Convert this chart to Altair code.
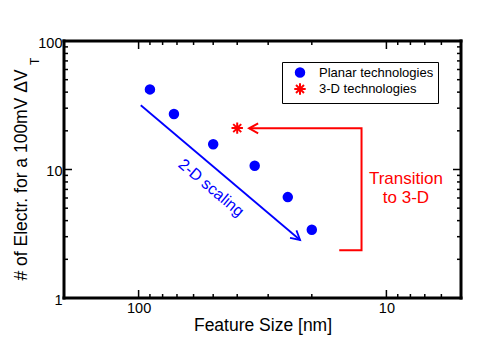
import altair as alt
import pandas as pd

# ---- data ----
planar_size = [90, 72, 50, 34, 25, 20]
planar_electrons = [42, 27, 15.7, 10.7, 6.1, 3.4]
three_d_size = [40]
three_d_electrons = [21]

tech_labels = ["Planar technologies", "3-D technologies"]

# annotation geometry (data coordinates)
scaling_arrow_x = [98, 22.3]
scaling_arrow_y = [31.6, 2.83]
transition_path_x = [15.5, 12.6, 12.6, 35.8]
transition_path_y = [2.35, 2.35, 20.9, 20.9]

x_domain = [5, 200]
y_domain = [1, 100]
x_major = [100, 10]
x_minor = [90, 80, 70, 60, 50, 40, 30, 20, 9, 8, 7, 6]
y_major = [10]
y_minor = [2, 3, 4, 5, 6, 7, 8, 9, 20, 30, 40, 50, 60, 70, 80, 90]

W, H = 397, 257
FONT = "Liberation Sans"

xscale = alt.Scale(type="log", domain=x_domain, reverse=True)
yscale = alt.Scale(type="log", domain=y_domain)

XTITLE = "Feature Size [nm]"
YTITLE = "# of Electr. for a 100mV \u0394V"

xaxis = alt.Axis(values=x_major, grid=False, ticks=False, tickSize=0, domain=False,
                 labelFontSize=14.5, labelPadding=3, labelColor="black", labelFont=FONT,
                 titleFontSize=17.5, titleFontWeight="normal", titleFont=FONT,
                 titleColor="black", titlePadding=2, labelFlush=False)
yaxis = alt.Axis(values=[1, 10, 100], grid=False, ticks=False, tickSize=0, domain=False,
                 labelFontSize=14.5, labelPadding=2, labelColor="black", labelFont=FONT,
                 labelOffset=2,
                 titleFontSize=17.5, titleFontWeight="normal", titleFont=FONT,
                 titleColor="black", titleAngle=270, titleAlign="left",
                 titleBaseline="alphabetic", titleX=-38, titleY=239)


def X(field="x"):
    return alt.X(f"{field}:Q", scale=xscale, axis=xaxis, title=XTITLE)


def Y(field="y"):
    return alt.Y(f"{field}:Q", scale=yscale, axis=yaxis, title=YTITLE)


pts = pd.DataFrame({
    "x": planar_size + three_d_size,
    "y": planar_electrons + three_d_electrons,
    "tech": [tech_labels[0]] * len(planar_size) + [tech_labels[1]] * len(three_d_size),
})

STAR = "M-1,0L1,0M0,-1L0,1M-0.7,-0.7L0.7,0.7M-0.7,0.7L0.7,-0.7"
CHEVRON = "M-1,-0.55L0,0L-1,0.55"

leg = alt.Legend(
    title=None, orient="none", legendX=218, legendY=21,
    labelFontSize=13, labelFont=FONT, labelColor="black",
    padding=4, symbolOffset=7, labelOffset=12, rowPadding=-2,
    strokeColor="black", symbolStrokeWidth=2,
)

points = alt.Chart(pts).mark_point(filled=True, strokeWidth=2, opacity=1).encode(
    x=X(), y=Y(),
    fill=alt.Fill("tech:N", scale=alt.Scale(domain=tech_labels, range=["#0000ff", "#ff0000"]), legend=leg),
    stroke=alt.Stroke("tech:N", scale=alt.Scale(domain=tech_labels, range=["#0000ff", "#ff0000"]), legend=leg),
    shape=alt.Shape("tech:N", scale=alt.Scale(domain=tech_labels, range=["circle", STAR]), legend=leg),
    size=alt.Size("tech:N", scale=alt.Scale(domain=tech_labels, range=[72, 130]), legend=leg),
)

# blue 2-D scaling arrow
arrow_df = pd.DataFrame({"x": [scaling_arrow_x[0]], "x2": [scaling_arrow_x[1]],
                         "y": [scaling_arrow_y[0]], "y2": [scaling_arrow_y[1]]})
blue_line = alt.Chart(arrow_df).mark_rule(color="#0000ff", strokeWidth=1.8).encode(
    x=X(), x2="x2:Q", y=Y(), y2="y2:Q")
blue_head = alt.Chart(pd.DataFrame({"x": [scaling_arrow_x[1]], "y": [scaling_arrow_y[1]]})).mark_point(
    shape=CHEVRON, size=324, angle=40.3, filled=False, color="#0000ff", strokeWidth=1.8, opacity=1
).encode(x=X(), y=Y())

scaling_text = alt.Chart(pd.DataFrame({"x": [51], "y": [7.2], "t": ["2-D scaling"]})).mark_text(
    angle=40, fontSize=16, font=FONT, color="#0000ff", align="center", baseline="middle"
).encode(x=X(), y=Y(), text="t:N")

# red transition path
path_df = pd.DataFrame({"x": transition_path_x, "y": transition_path_y, "o": list(range(len(transition_path_x)))})
red_line = alt.Chart(path_df).mark_line(color="#ff0000", strokeWidth=2).encode(
    x=X(), y=Y(), order="o:Q")
red_head = alt.Chart(pd.DataFrame({"x": [transition_path_x[-1]], "y": [transition_path_y[-1]]})).mark_point(
    shape=CHEVRON, size=324, angle=180, filled=False, color="#ff0000", strokeWidth=2, opacity=1
).encode(x=X(), y=Y())

trans_text = alt.Chart(pd.DataFrame({"x": [8.34], "y": [7.71], "t": ["Transition\nto 3-D"]})).mark_text(
    fontSize=17, font=FONT, color="#ff0000", align="center", baseline="alphabetic",
    lineBreak="\n", lineHeight=19.3
).encode(x=X(), y=Y(), text="t:N")

# subscript T of the y title
sub_t = alt.Chart(pd.DataFrame({"t": ["T"]})).mark_text(
    fontSize=12, font=FONT, color="black", angle=270, align="left", baseline="alphabetic"
).encode(x=alt.value(-25), y=alt.value(24), text="t:N")

# inward ticks on all four sides
tick_layers = []
for vals, L in [(x_major, 8), (x_minor, 4)]:
    d = pd.DataFrame({"x": vals})
    for y0 in [H, 0]:
        y1 = y0 - L if y0 == H else L
        tick_layers.append(alt.Chart(d).mark_rule(color="black", strokeWidth=1.5).encode(
            x=X(), y=alt.value(y0), y2=alt.value(y1)))
for vals, L in [(y_major, 8), (y_minor, 4)]:
    d = pd.DataFrame({"y": vals})
    for x0 in [0, W]:
        x1 = L if x0 == 0 else W - L
        tick_layers.append(alt.Chart(d).mark_rule(color="black", strokeWidth=1.5).encode(
            y=Y(), x=alt.value(x0), x2=alt.value(x1)))

# full plot frame along the scale extents
frame_df = pd.DataFrame({
    "x": [x_domain[0], x_domain[0], x_domain[0], x_domain[1]],
    "x2": [x_domain[1], x_domain[1], x_domain[0], x_domain[1]],
    "y": [y_domain[0], y_domain[1], y_domain[0], y_domain[0]],
    "y2": [y_domain[0], y_domain[1], y_domain[1], y_domain[1]],
})
frame = alt.Chart(frame_df).mark_rule(color="#000000", strokeWidth=3, strokeCap="square", opacity=1).encode(
    x=X(), x2="x2:Q", y=Y(), y2="y2:Q")

chart = alt.layer(
    *tick_layers, blue_line, blue_head, scaling_text, red_line, red_head,
    trans_text, sub_t, points, frame
).properties(
    width=W, height=H,
    autosize=alt.AutoSizeParams(type="none"),
    padding={"left": 64, "top": 41, "right": 18, "bottom": 49},
    background="white",
).configure(font=FONT).configure_view(stroke="black", strokeWidth=2)

chart.save("out.html", embed_options={"renderer": "svg", "actions": False})
